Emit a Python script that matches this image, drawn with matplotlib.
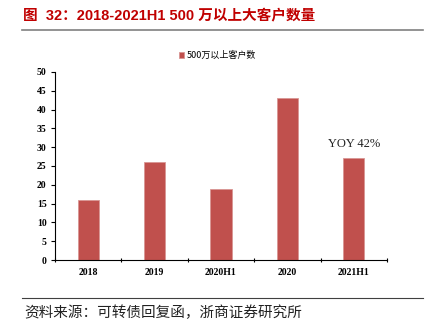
import numpy as np
import matplotlib
matplotlib.use('Agg')
import matplotlib.pyplot as plt
from matplotlib.lines import Line2D

plt.rcParams['font.family'] = ['Liberation Serif', 'Noto Sans CJK SC', 'DejaVu Sans']

categories = ['2018', '2019', '2020H1', '2020', '2021H1']
values = [16, 26, 19, 43, 27]
series_name = '500万以上客户数'
title = '图  32：2018-2021H1 500 万以上大客户数量'
source = '资料来源：可转债回复函，浙商证券研究所'
note = 'YOY 42%'

fig = plt.figure(figsize=(4.27, 3.36), dpi=100)
ax = fig.add_axes([0.129, 0.226, 0.777, 0.560])

x = np.arange(len(categories))
ax.bar(x, values, width=0.32, color='#C0504D', edgecolor='#D99694', linewidth=0.6,
       label=series_name)
ax.set_xlim(-0.5, len(categories) - 0.5)
ax.set_ylim(0, 50)
ax.set_yticks(np.arange(0, 51, 5))
ax.set_xticks(x)
ax.set_xticklabels(categories)
ax.set_xticks(np.arange(-0.5, len(categories), 1), minor=True)
ax.tick_params(axis='x', which='major', length=0, pad=6)
ax.tick_params(axis='x', which='minor', length=3, direction='inout', width=0.8)
ax.tick_params(axis='y', length=3, width=0.8, pad=3)
for lab in ax.get_xticklabels() + ax.get_yticklabels():
    lab.set_fontsize(7)
    lab.set_fontweight('bold')
for s in ['top', 'right']:
    ax.spines[s].set_visible(False)
ax.spines['left'].set_linewidth(0.8)
ax.spines['bottom'].set_linewidth(0.8)

ax.text(4, values[4] + 3.8, note, ha='center', va='center', fontsize=9, color='#222222')

leg = ax.legend(loc='lower center', bbox_to_anchor=(0.49, 1.02), frameon=False,
                handlelength=0.6, handleheight=0.6, handletextpad=0.3,
                prop={'family': ['Noto Sans CJK SC'], 'size': 6.5})

fig.text(0.054, 0.955, title, fontsize=10.5, fontweight='bold', color='#C00000',
         family=['Liberation Sans', 'Noto Sans CJK SC'], va='center')
fig.add_artist(Line2D([0.052, 0.99], [0.912, 0.912], color='#808080', linewidth=1.2))
fig.add_artist(Line2D([0.052, 0.99], [0.113, 0.113], color='#404040', linewidth=0.8))
fig.text(0.056, 0.068, source, fontsize=10.5, color='#222222',
         family=['Noto Sans CJK SC'], va='center')

fig.savefig('out.png', dpi=100)
